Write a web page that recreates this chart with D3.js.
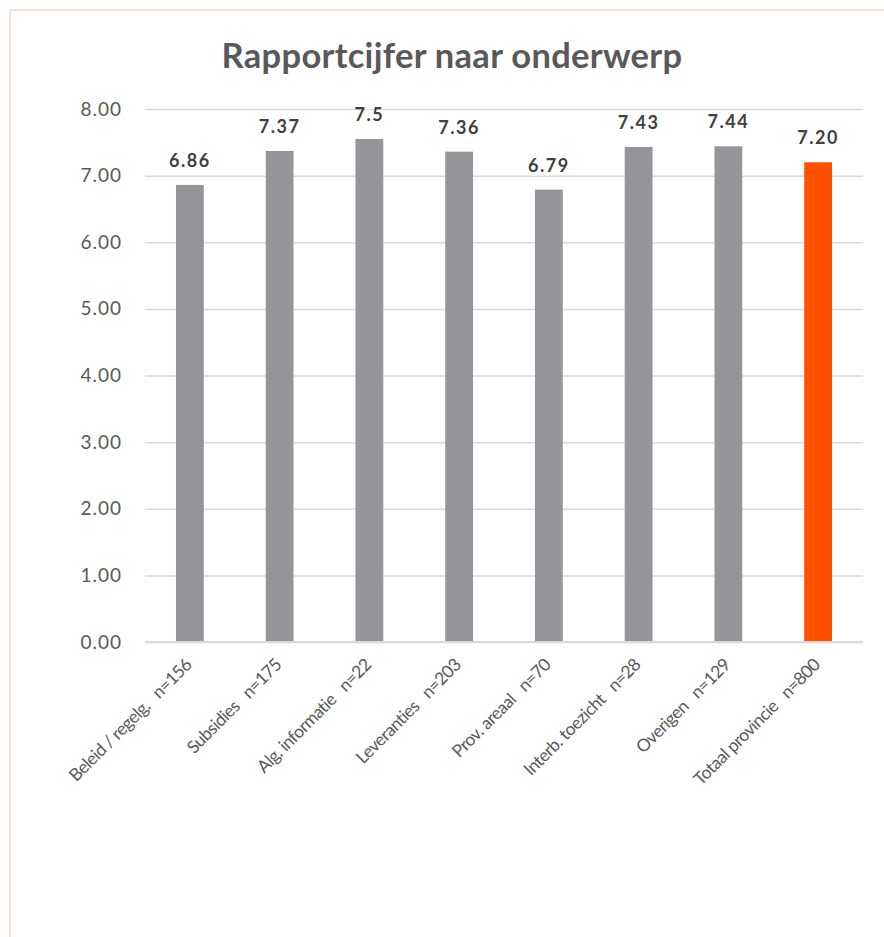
<!DOCTYPE html>
<html>
<head>
<meta charset="utf-8">
<script src="https://cdn.jsdelivr.net/npm/d3@7"></script>
<style>
  body{margin:0;background:#fff;}
  text{font-family:Lato,"Open Sans",sans-serif;}
</style>
</head>
<body>
<svg id="svg" width="884" height="937"></svg>
<script>
// chart data
var categories=["Beleid / regelg.  n=156","Subsidies  n=175","Alg. informatie  n=22","Leveranties  n=203",
                "Prov. areaal  n=70","Interb. toezicht  n=28","Overigen  n=129","Totaal provincie  n=800"];
var scores=[6.86,7.37,7.55,7.36,6.79,7.43,7.44,7.20];
var scoreLabels=["6.86","7.37","7.5","7.36","6.79","7.43","7.44","7.20"];
var yTicks=[0,1,2,3,4,5,6,7,8];

var svg=d3.select("#svg")
var margin={left:145,right:21,top:109,bottom:295}
var width=+svg.attr("width"), height=+svg.attr("height")

//peach frame
svg.append("rect")
    .attr("x",10).attr("y",10)
    .attr("width",width).attr("height",height)
    .style("fill","none")
    .style("stroke","#fde1d6")
    .style("stroke-width",2)

svg.append("text")
    .attr("x",452).attr("y",68)
    .attr("text-anchor","middle")
    .style("font-size","34.5px")
    .style("font-weight","bold")
    .style("letter-spacing","0.3px")
    .style("fill","#595959")
    .text("Rapportcijfer naar onderwerp")

var x=d3.scaleBand()
    .domain(categories)
    .range([margin.left,width-margin.right])
    .paddingInner(0.69)
    .paddingOuter(0.345)

var y=d3.scaleLinear()
    .domain([0,8])
    .range([height-margin.bottom,margin.top])

//gridlines + y labels
var yAxis=svg.append("g")
    .attr("transform","translate("+margin.left+",0)")
    .call(d3.axisLeft(y).tickValues(yTicks).tickFormat(d3.format(".2f"))
        .tickSize(-(width-margin.left-margin.right)).tickPadding(23))
yAxis.select(".domain").remove()
yAxis.selectAll("line").style("stroke","#d9d9d9").style("stroke-width",1.5)
yAxis.selectAll("text")
    .style("font-size","19px")
    .style("letter-spacing","1px")
    .style("fill","#595959")
    .style("font-family","Lato,sans-serif")

//bars
svg.selectAll(".bar")
    .data(scores)
    .enter().append("rect")
    .attr("class","bar")
    .attr("x",(d,i)=>x(categories[i]))
    .attr("width",x.bandwidth())
    .attr("y",d=>y(d))
    .attr("height",d=>y(0)-y(d))
    .style("fill",(d,i)=>i==scores.length-1?"#ff5000":"#939598")

//baseline over bars
svg.append("line")
    .attr("x1",margin.left).attr("x2",width-margin.right)
    .attr("y1",y(0)).attr("y2",y(0))
    .style("stroke","#d9d9d9").style("stroke-width",2)

//value labels
svg.selectAll(".val")
    .data(scores)
    .enter().append("text")
    .attr("class","val")
    .attr("x",(d,i)=>x(categories[i])+x.bandwidth()/2)
    .attr("y",d=>y(d)-18)
    .attr("text-anchor","middle")
    .style("font-size","18px")
    .style("font-weight","bold")
    .style("letter-spacing","1.5px")
    .style("fill","#404040")
    .text((d,i)=>scoreLabels[i])

//rotated category labels
svg.selectAll(".cat")
    .data(categories)
    .enter().append("text")
    .attr("class","cat")
    .attr("xml:space","preserve")
    .attr("text-anchor","end")
    .attr("transform",d=>"translate("+(x(d)+x.bandwidth()/2+3)+","+(y(0)+24)+") rotate(-45)")
    .style("font-size","17.5px")
    .style("letter-spacing","-0.6px")
    .style("fill","#595959")
    .style("white-space","pre")
    .text(d=>d.replace("  ","   "))
</script>
</body>
</html>
